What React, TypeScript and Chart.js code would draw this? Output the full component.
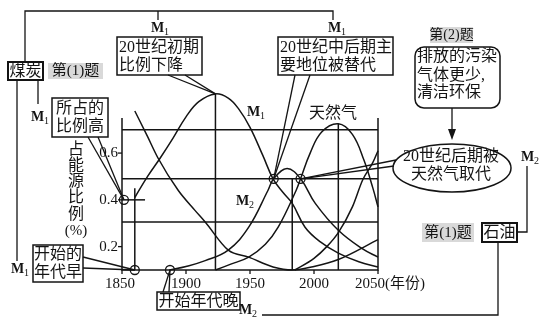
import React, { useEffect, useRef } from 'react';
import { Chart, registerables } from 'chart.js';

Chart.register(...registerables);

// ---------- data ----------
const woodYears = [1860, 1870, 1878, 1894, 1907, 1915, 1933, 1949, 1968, 1983, 2000, 2019, 2050];
const woodShare = [0.78, 0.67, 0.58, 0.44, 0.355, 0.305, 0.185, 0.155, 0.113, 0.1, 0.115, 0.145, 0.23];

const coalYears = [1860, 1870, 1880, 1890, 1900, 1910, 1923, 1933, 1941, 1950, 1960, 1968, 1976, 1983, 1993, 2005, 2019, 2035, 2050];
const coalShare = [0.41, 0.5, 0.58, 0.665, 0.755, 0.82, 0.853, 0.835, 0.79, 0.71, 0.59, 0.49, 0.43, 0.385, 0.283, 0.22, 0.172, 0.135, 0.113];

const oilYears = [1887, 1900, 1915, 1933, 1949, 1964, 1968.5, 1979, 1989.5, 2001, 2019, 2038, 2050];
const oilShare = [0.1, 0.115, 0.14, 0.185, 0.283, 0.44, 0.49, 0.534, 0.49, 0.385, 0.27, 0.19, 0.155];

const gasYears = [1923, 1935, 1949, 1962, 1972, 1986, 1989.5, 1997, 2006, 2019, 2030, 2039, 2046, 2050];
const gasShare = [0.1, 0.125, 0.155, 0.21, 0.283, 0.44, 0.49, 0.6, 0.69, 0.725, 0.68, 0.57, 0.45, 0.37];

const newYears = [1985, 2000, 2010, 2019, 2030, 2038, 2046, 2050];
const newShare = [0.1, 0.15, 0.2, 0.26, 0.37, 0.485, 0.56, 0.61];

const xTicks = [1850, 1900, 1950, 2000, 2050];
const xTickLabels = ['1850', '1900', '1950', '2000', '2050'];
const yTicks = [0.2, 0.4, 0.6];
const yTickLabels = ['0.2', '0.4', '0.6'];

const gridShares = [0.7, 0.49, 0.305];
const guideYears = [1860, 1923, 1983, 2019];
const guideTops = [0.45, 0.853, 0.49, 0.725];
const stubYears = [1850, 1868];
const stubShare = 0.4;

// marked points: 0 coal peak, 1 high share, 2 early start, 3 late start, 4 replaced, 5 gas takes over
const markYears = [1923, 1851.5, 1860, 1887.5, 1968.5, 1989.5];
const markShares = [0.853, 0.4, 0.1, 0.1, 0.49, 0.49];

// ---------- style ----------
const INK = '#141414';
const SERIF = '"Liberation Serif", "DejaVu Serif", serif';
const CJK = '"Liberation Serif", "Noto Sans CJK SC", sans-serif';

type Pt = [number, number];

function pl(ctx: CanvasRenderingContext2D, pts: Pt[], lw = 1.3) {
  ctx.beginPath();
  ctx.lineWidth = lw;
  ctx.moveTo(pts[0][0], pts[0][1]);
  for (let i = 1; i < pts.length; i++) ctx.lineTo(pts[i][0], pts[i][1]);
  ctx.stroke();
}

function txt(ctx: CanvasRenderingContext2D, s: string, x: number, y: number, size = 16, align: CanvasTextAlign = 'center', font = CJK) {
  ctx.font = `${size}px ${font}`;
  ctx.textAlign = align;
  ctx.textBaseline = 'middle';
  ctx.fillText(s, x, y);
}

function mLab(ctx: CanvasRenderingContext2D, x: number, y: number, sub: string) {
  ctx.font = `bold 14px ${SERIF}`;
  const wM = ctx.measureText('M').width;
  ctx.font = `10px ${SERIF}`;
  const wS = ctx.measureText(sub).width;
  const x0 = x - (wM + wS) / 2;
  ctx.textAlign = 'left';
  ctx.textBaseline = 'middle';
  ctx.font = `bold 14px ${SERIF}`;
  ctx.fillText('M', x0, y);
  ctx.font = `10px ${SERIF}`;
  ctx.fillText(sub, x0 + wM, y + 4);
}

function box(ctx: CanvasRenderingContext2D, x: number, y: number, w: number, h: number, lw = 1.5) {
  ctx.lineWidth = lw;
  ctx.strokeRect(x, y, w, h);
}

function gray(ctx: CanvasRenderingContext2D, s: string, x: number, y: number, w: number, h: number, size: number) {
  ctx.fillStyle = '#d9d9d9';
  ctx.fillRect(x, y, w, h);
  ctx.fillStyle = INK;
  txt(ctx, s, x + w / 2, y + h / 2 + 0.5, size);
}

const decor = {
  id: 'decor',
  beforeDatasetsDraw(chart: any) {
    const { ctx, chartArea: a } = chart;
    const xs = chart.scales.x;
    const ys = chart.scales.y;
    ctx.save();
    ctx.strokeStyle = INK;
    ctx.fillStyle = INK;
    gridShares.forEach((v) => {
      const py = ys.getPixelForValue(v);
      pl(ctx, [[a.left, py], [a.right, py]], 1.5);
    });
    pl(ctx, [[a.left, a.top], [a.left, a.bottom], [a.right, a.bottom], [a.right, a.top]], 1.5);
    yTicks.forEach((v, i) => {
      const py = ys.getPixelForValue(v);
      pl(ctx, [[a.left - 4, py], [a.left, py]], 1.3);
      txt(ctx, yTickLabels[i], a.left - 4, py, 15, 'right', SERIF);
    });
    xTicks.forEach((v, i) => {
      const px = xs.getPixelForValue(v);
      pl(ctx, [[px, a.bottom], [px, a.bottom + 4]], 1.3);
      if (i === xTicks.length - 1) {
        txt(ctx, xTickLabels[i], px + 7, a.bottom + 14, 15, 'right', SERIF);
        txt(ctx, '(年份)', px + 7, a.bottom + 14, 15, 'left', CJK);
      } else {
        txt(ctx, xTickLabels[i], px - (i === 0 ? 2 : 0), a.bottom + 14, 15, 'center', SERIF);
      }
    });
    ctx.restore();
  },
  afterDraw(chart: any) {
    const { ctx } = chart;
    const xs = chart.scales.x;
    const ys = chart.scales.y;
    const mk = (i: number): Pt => [xs.getPixelForValue(markYears[i]), ys.getPixelForValue(markShares[i])];
    ctx.save();
    ctx.strokeStyle = INK;
    ctx.fillStyle = INK;

    // top bracket
    pl(ctx, [[25, 62], [25, 11], [333, 11], [333, 20]]);
    pl(ctx, [[158, 11], [158, 20]]);
    mLab(ctx, 160, 28, '1');
    mLab(ctx, 337, 28, '1');

    // coal box
    box(ctx, 8, 62, 35, 18, 2);
    txt(ctx, '煤炭', 25.5, 71.5);
    gray(ctx, '第(1)题', 48, 63, 55, 16, 15);
    pl(ctx, [[38, 80], [38, 104]]);
    mLab(ctx, 40, 117, '1');
    pl(ctx, [[17, 80], [17, 261]]);
    mLab(ctx, 20, 269, '1');

    // high share
    box(ctx, 52, 98, 56, 39);
    txt(ctx, '所占的', 80, 109);
    txt(ctx, '比例高', 80, 127);
    const p1 = mk(1);
    pl(ctx, [[88, 137], p1]);
    pl(ctx, [[98, 137], p1]);

    // early 20th c.
    box(ctx, 117, 37, 85, 38);
    txt(ctx, '20世纪初期', 119, 48, 16, 'left');
    txt(ctx, '比例下降', 119, 66, 16, 'left');
    const p0 = mk(0);
    pl(ctx, [[168, 75], p0]);
    pl(ctx, [[185, 75], p0]);

    // mid-late 20th c.
    box(ctx, 278, 37, 115, 38);
    txt(ctx, '20世纪中后期主', 280, 48, 16, 'left');
    txt(ctx, '要地位被替代', 280, 66, 16, 'left');
    const p4 = mk(4);
    pl(ctx, [[295, 75], p4]);
    pl(ctx, [[310, 75], p4]);

    // question 2
    gray(ctx, '第(2)题', 430, 27, 43, 16, 14);
    ctx.lineWidth = 1.5;
    ctx.beginPath();
    (ctx as any).roundRect(415, 47, 85, 61, 9);
    ctx.stroke();
    txt(ctx, '排放的污染', 417, 57, 16, 'left');
    txt(ctx, '气体更少,', 417, 76, 16, 'left');
    txt(ctx, '清洁环保', 417, 93, 16, 'left');
    pl(ctx, [[452, 108], [452, 132]]);
    ctx.beginPath();
    ctx.moveTo(452, 140);
    ctx.lineTo(448, 129);
    ctx.lineTo(456, 129);
    ctx.closePath();
    ctx.fill();

    // ellipse
    ctx.lineWidth = 1.5;
    ctx.beginPath();
    ctx.ellipse(452, 168, 59, 24, 0, 0, Math.PI * 2);
    ctx.stroke();
    txt(ctx, '20世纪后期被', 451, 157);
    txt(ctx, '天然气取代', 451, 175);
    const p5 = mk(5);
    pl(ctx, [[396, 160], p5]);
    pl(ctx, [[394, 166], p5]);

    // oil side
    mLab(ctx, 530, 157, '2');
    pl(ctx, [[527, 166], [527, 232], [517, 232]]);
    gray(ctx, '第(1)题', 422, 223, 52, 19, 15);
    box(ctx, 482, 223, 35, 19, 2);
    txt(ctx, '石油', 499.5, 233);
    pl(ctx, [[498, 242], [498, 315], [262, 315]]);
    mLab(ctx, 248, 310, '2');

    // late start
    box(ctx, 157, 292, 83, 18);
    txt(ctx, '开始年代晚', 198.5, 301.5);
    const p3 = mk(3);
    pl(ctx, [[163, 292], p3]);
    pl(ctx, [[169, 292], p3]);

    // early start
    box(ctx, 33, 245, 50, 37);
    txt(ctx, '开始的', 58, 255);
    txt(ctx, '年代早', 58, 273);
    const p2 = mk(2);
    pl(ctx, [[83, 257], p2]);
    pl(ctx, [[83, 268], p2]);

    // curve labels
    txt(ctx, '天然气', 333, 114);
    mLab(ctx, 256, 112, '1');
    mLab(ctx, 245, 201, '2');

    // y title
    const chars = ['占', '能', '源', '比', '例'];
    const cy = [150, 166, 182, 198, 215];
    chars.forEach((c, i) => txt(ctx, c, 76, cy[i], 16));
    txt(ctx, '(%)', 76, 231, 15, 'center', SERIF);

    ctx.restore();
  },
};

function curve(xsArr: number[], ysArr: number[], smooth: 'monotone' | 'bezier') {
  return {
    type: 'line' as const,
    data: xsArr.map((x, i) => ({ x, y: ysArr[i] })),
    borderColor: INK,
    borderWidth: 1.5,
    pointRadius: 0,
    cubicInterpolationMode: smooth === 'monotone' ? ('monotone' as const) : ('default' as const),
    tension: 0.4,
    clip: false as any,
    fill: false,
  };
}

function seg(points: { x: number; y: number }[]) {
  return {
    type: 'line' as const,
    data: points,
    borderColor: INK,
    borderWidth: 1.5,
    pointRadius: 0,
    tension: 0,
    clip: false as any,
    fill: false,
  };
}

export default function App() {
  const ref = useRef<HTMLCanvasElement | null>(null);
  useEffect(() => {
    document.body.style.margin = '0';
    if (!ref.current) return;
    const datasets: any[] = [
      curve(woodYears, woodShare, 'monotone'),
      curve(coalYears, coalShare, 'bezier'),
      curve(oilYears, oilShare, 'bezier'),
      curve(gasYears, gasShare, 'bezier'),
      curve(newYears, newShare, 'monotone'),
      ...guideYears.map((yr, i) => seg([{ x: yr, y: 0.1 }, { x: yr, y: guideTops[i] }])),
      seg(stubYears.map((yr) => ({ x: yr, y: stubShare }))),
      {
        type: 'scatter',
        data: markYears.map((x, i) => ({ x, y: markShares[i] })),
        showLine: false,
        pointRadius: 4.5,
        pointBorderWidth: 1.3,
        pointBorderColor: INK,
        pointBackgroundColor: 'rgba(0,0,0,0)',
        clip: false,
      },
    ];
    const chart = new Chart(ref.current, {
      type: 'line',
      data: { datasets },
      options: {
        animation: false,
        responsive: false,
        devicePixelRatio: 1,
        events: [],
        layout: { padding: { left: 122, right: 161, top: 118, bottom: 50 } },
        plugins: { legend: { display: false }, tooltip: { enabled: false } },
        scales: {
          x: { type: 'linear', min: 1850, max: 2050, display: false },
          y: { type: 'linear', min: 0.1, max: 0.75, display: false },
        },
      },
      plugins: [decor],
    });
    return () => chart.destroy();
  }, []);
  return (
    <div style={{ position: 'relative', width: 539, height: 320, background: '#fff' }}>
      <canvas ref={ref} width={539} height={320} />
    </div>
  );
}
